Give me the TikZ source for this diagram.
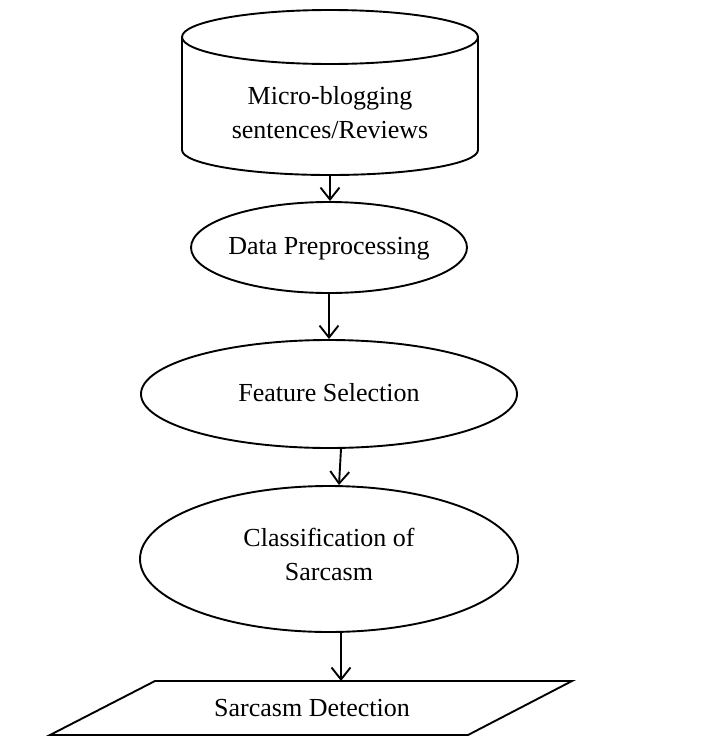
\documentclass[tikz,border=0pt]{standalone}
\usepackage{fontspec}
\setmainfont{Liberation Serif}
\usetikzlibrary{shapes.geometric,arrows.meta}
\begin{document}
\begin{tikzpicture}[x=1pt,y=-1pt,
  lw/.style={line width=1.9pt},
  proc/.style={ellipse,draw,lw,inner sep=0pt},
  txt/.style={inner sep=0pt,align=center,font=\fontsize{26}{34}\selectfont},
  arr/.style={lw,-{Straight Barb[length=12pt,width=19pt,line width=1.9pt]}}]
\useasboundingbox (0,0) rectangle (717,737);
% cylinder
\draw[lw] (330,37) ellipse [x radius=148,y radius=27];
\draw[lw] (182,37) -- (182,150) arc[start angle=180,end angle=0,x radius=148,y radius=25] -- (478,37);
\node[txt] (src) at (330,113) {Micro-blogging\\sentences/Reviews};
\coordinate (srcb) at (330,175);
% process ellipses
\node[proc,minimum width=276pt,minimum height=91pt] (dp) at (329,247.5) {};
\node[txt] (dpt) at (329,249) {Data Preprocessing};
\node[proc,minimum width=376pt,minimum height=108pt] (fs) at (329,394) {};
\node[txt] (fst) at (329,393) {Feature Selection};
\node[proc,minimum width=378pt,minimum height=146pt] (cl) at (329,559) {};
\node[txt] (clt) at (329,554) {Classification of\\Sarcasm};
% output parallelogram
\draw[lw] (50,735) -- (155,681) -- (572,681) -- (468,735) -- cycle;
\node[txt] (out) at (312,708) {Sarcasm Detection};
\coordinate (outt) at (341,681);
% arrows
\draw[arr] (srcb) -- ([xshift=1pt]dp.north);
\draw[arr] (dp.south) -- (fs.north);
\draw[arr] ([xshift=12pt]fs.south) -- ([xshift=10pt]cl.north);
\draw[arr] ([xshift=12pt]cl.south) -- (outt);
\end{tikzpicture}
\end{document}
